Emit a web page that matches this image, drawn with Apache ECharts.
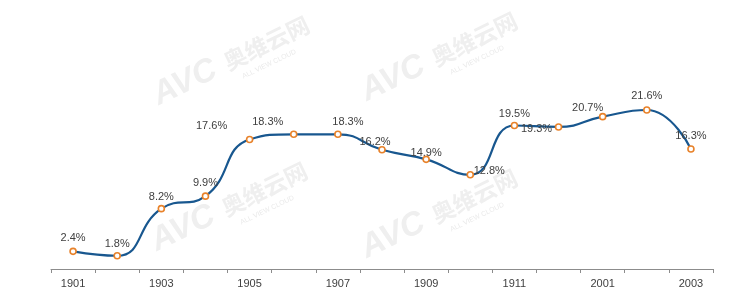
<!DOCTYPE html>
<html>
<head>
<meta charset="utf-8">
<script src="https://cdn.jsdelivr.net/npm/echarts@6/dist/echarts.min.js"></script>
<style>html,body{margin:0;padding:0;background:#fff}#c{width:740px;height:304px}</style>
</head>
<body>
<div id="c"></div>
<script>
var categories = ['1901','1902','1903','1904','1905','1906','1907','1908','1909','1910','1911','1912','2001','2002','2003'];
var values = [2.4, 1.8, 8.2, 9.9, 17.6, 18.3, 18.3, 16.2, 14.9, 12.8, 19.5, 19.3, 20.7, 21.6, 16.3];
// label offsets (style only), pixels relative to each point
var labelOffsets = [[0,-13],[0,-12],[0,-12],[0,-13],[-38,-13],[-26,-12],[10,-12],[-7,-8],[0,-6],[19,-4],[0,-12],[-22,2],[-15,-9],[0,-14],[0,-13]];

var chart = echarts.init(document.getElementById('c'));
var font = '"Liberation Sans", Arial, sans-serif';

function watermark(x, y) {
  return {
    type: 'group', x: x, y: y, rotation: 0.45, silent: true, z: -10,
    children: [
      {type: 'text', x: 0, y: 0, style: {text: 'AVC', fontSize: 33, fontWeight: 'bold', fontStyle: 'italic', fontFamily: font, fill: '#efefef', verticalAlign: 'bottom'}},
      {type: 'text', x: 78, y: -5, style: {text: '奥维云网', fontSize: 23, fontWeight: 'bold', fontFamily: '"Noto Sans CJK SC", sans-serif', fill: '#efefef', verticalAlign: 'bottom'}},
      {type: 'text', x: 88, y: 7, style: {text: 'ALL VIEW CLOUD', fontSize: 7, fontFamily: font, fill: '#eaeaea', verticalAlign: 'bottom'}}
    ]
  };
}

chart.setOption({
  animation: false,
  backgroundColor: '#fff',
  graphic: [watermark(162, 112), watermark(370, 108), watermark(160, 258), watermark(370, 265)],
  grid: {left: 51, right: 27, top: 85, bottom: 35},
  xAxis: {
    type: 'category',
    data: categories,
    boundaryGap: true,
    axisLine: {lineStyle: {color: '#8c8c8c', width: 1}},
    axisTick: {show: true, interval: 0, length: 4, lineStyle: {color: '#8c8c8c'}},
    axisLabel: {interval: 1, color: '#404040', fontSize: 11, fontFamily: font, margin: 9}
  },
  yAxis: {
    type: 'value', min: 0, max: 25, show: false,
    splitLine: {show: false}
  },
  series: [{
    type: 'line',
    data: values.map(function (v, i) {
      return {value: v, label: {offset: labelOffsets[i]}};
    }),
    smooth: 0.5,
    symbol: 'circle',
    symbolSize: 6,
    lineStyle: {color: '#18578f', width: 2.2},
    itemStyle: {color: '#ffffff', borderColor: '#e8822a', borderWidth: 1.6},
    label: {
      show: true,
      position: 'inside',
      align: 'center',
      verticalAlign: 'middle',
      formatter: function (p) { return p.value.toFixed(1) + '%'; },
      color: '#404040',
      fontSize: 11,
      fontFamily: font
    },
    z: 5
  }]
});
</script>
</body>
</html>
